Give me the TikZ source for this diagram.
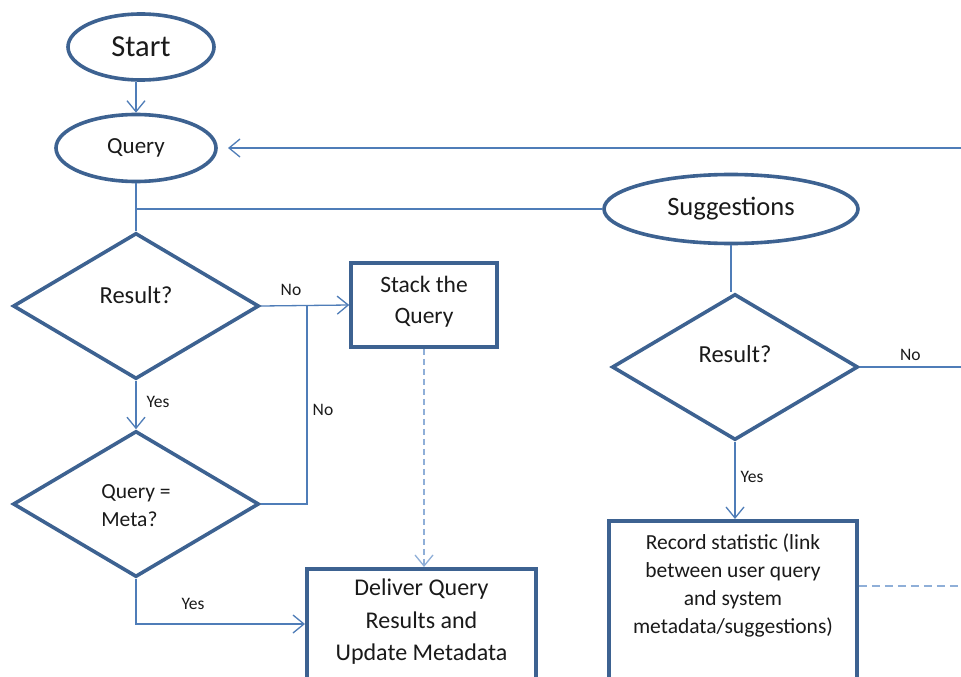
\documentclass[tikz,border=0pt]{standalone}
\usepackage{fontspec}
\setmainfont{Carlito}
\usetikzlibrary{shapes.geometric,arrows.meta}
\definecolor{nodeblue}{HTML}{3D6291}
\definecolor{lineblue}{HTML}{4F7DB8}
\definecolor{dashblue}{HTML}{8FAFD8}
\definecolor{txt}{HTML}{1A1A1A}
\tikzset{
  shapeline/.style={draw=nodeblue, line width=3.6pt, text=txt, inner sep=0pt},
  ovalnode/.style={shapeline, ellipse},
  decnode/.style={shapeline, diamond, minimum width=246pt, minimum height=146pt},
  boxnode/.style={shapeline, rectangle},
  conn/.style={draw=lineblue, line width=1.3pt},
  arr/.style={conn, -{Straight Barb[length=11pt,width=18pt,line width=1.3pt]}},
  dasharr/.style={draw=dashblue, line width=1.6pt, dash pattern=on 6pt off 4pt, -{Straight Barb[length=11pt,width=18pt,line width=1.3pt]}},
  dashln/.style={draw=dashblue, line width=1.6pt, dash pattern=on 8pt off 5pt},
  lbl/.style={text=txt, font=\fontsize{17.5}{19}\selectfont, inner sep=0pt},
}
\begin{document}
\begin{tikzpicture}[x=1pt,y=-1pt]
\useasboundingbox (0,0) rectangle (961,677);
\clip (0,0) rectangle (961,677);
\fill[white] (0,0) rectangle (961,677);
% nodes
\node[ovalnode, minimum width=146pt, minimum height=66pt, font=\fontsize{30.5}{32}\selectfont] (start) at (141,47) {Start};
\node[ovalnode, minimum width=160pt, minimum height=67pt, font=\fontsize{23}{25}\selectfont] (query) at (136,148) {Query};
\node[ovalnode, minimum width=254pt, minimum height=69pt, font=\fontsize{26.5}{28}\selectfont] (sugg) at (731,209) {Suggestions};
\node[decnode] (d1) at (136,306) {};
\node[font=\fontsize{24.5}{26}\selectfont, text=txt] (d1t) at (136,295) {Result?};
\node[decnode] (d3) at (136,504) {};
\node[font=\fontsize{21.5}{28}\selectfont, text=txt, align=left] (d3t) at (136,506) {Query =\\Meta?};
\node[decnode] (d2) at (735,367) {};
\node[font=\fontsize{24.5}{26}\selectfont, text=txt] (d2t) at (735,354) {Result?};
\node[boxnode, minimum width=146pt, minimum height=84pt] (stack) at (424,305) {};
\node[font=\fontsize{23.5}{31}\selectfont, text=txt, align=center] (stackt) at (424,302) {Stack the\\Query};
\node[boxnode, minimum width=229pt, minimum height=160pt, anchor=north] (deliver) at (421.5,567) {};
\node[font=\fontsize{24}{32.5}\selectfont, text=txt, align=center] (delt) at (421.5,622) {Deliver Query\\Results and\\Update Metadata};
\node[boxnode, minimum width=248pt, minimum height=200pt, anchor=north] (rec) at (733,519) {};
\node[font=\fontsize{21.5}{28}\selectfont, text=txt, align=center] (rect) at (733,585) {Record statistic (link\\between user query\\and system\\metadata/suggestions)};
% coordinates
\coordinate (qin) at (961,148);
\coordinate (qtip) at (228,148);
\coordinate (d2out) at (961,367);
\coordinate (recout) at (961,586);
\coordinate (nox) at (307,306);
\coordinate (delin) at (305,624);
% connectors
\draw[arr] (query.north |- start.south) -- (query.north);
\draw[arr] (qin) -- (qtip);
\draw[conn] (query.south) -- (d1.north);
\draw[conn] (query.south |- sugg.west) -- (sugg.west);
\draw[conn] (sugg.south) -- (sugg.south |- d2.north);
\draw[conn] (d2.east) -- node[lbl, above=6pt, pos=0.5] (lno2) {No} (d2out);
\draw[arr] (d2.south) -- node[lbl, right=5pt, pos=0.45] (lyes2) {Yes} (rec.north -| d2.south);
\draw[arr] (d1.east) -- (stack.west);
\node[lbl] (lno1) at (291,290) {No};
\draw[conn] (d3.east) -| (nox);
\node[lbl] (lno3) at (323,410) {No};
\draw[arr] (d1.south) -- (d3.north);
\node[lbl] (lyes1) at (158,402) {Yes};
\draw[arr] (d3.south) |- (delin);
\node[lbl] (lyes3) at (193,604) {Yes};
\draw[dasharr] (stack.south) -- (stack.south |- deliver.north);
\draw[dashln] (rec.east |- recout) -- (recout);
\end{tikzpicture}
\end{document}
